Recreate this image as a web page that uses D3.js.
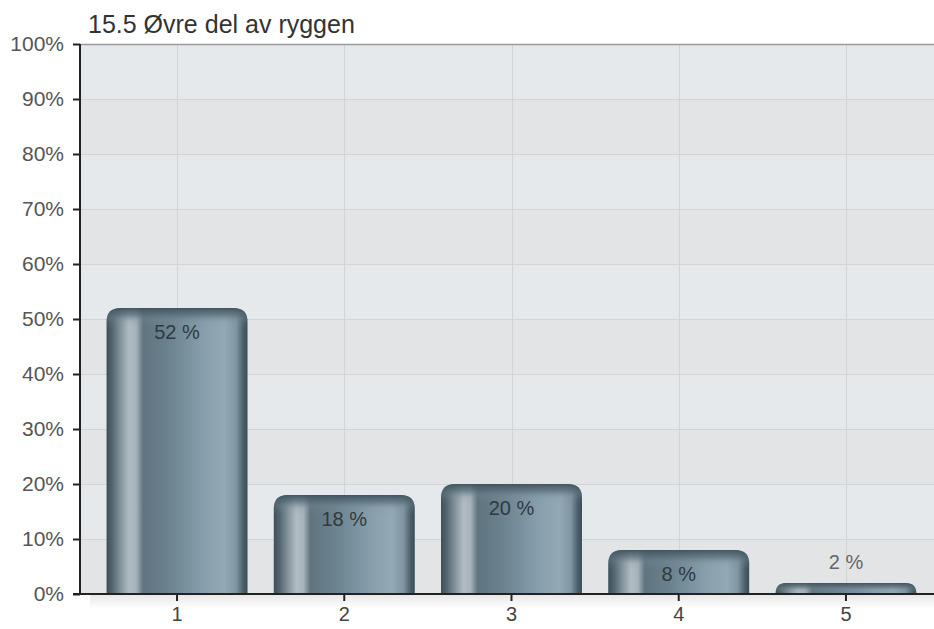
<!DOCTYPE html>
<html>
<head>
<meta charset="utf-8">
<script src="https://cdn.jsdelivr.net/npm/d3@7/dist/d3.min.js"></script>
<style>
  html, body { margin: 0; padding: 0; background: #ffffff; }
  svg { display: block; font-family: "Liberation Sans", Arial, sans-serif; }
</style>
</head>
<body>
<svg id="chart" width="934" height="629"></svg>
<script>
// Chart data
const title = "15.5 Øvre del av ryggen";
const categories = ["1", "2", "3", "4", "5"];
const values = [52, 18, 20, 8, 2];
const yTicks = [0, 10, 20, 30, 40, 50, 60, 70, 80, 90, 100];

const svg = d3.select("#chart");
const plot = { left: 80, right: 934, top: 44, bottom: 594 };
const FONT = "'Liberation Sans', Arial, sans-serif";

const x = d3.scaleBand()
  .domain(categories)
  .range([93.5, 929.5])
  .paddingInner(0.157)
  .paddingOuter(0.078);
const y = d3.scaleLinear().domain([0, 100]).range([plot.bottom, plot.top]);

const defs = svg.append("defs");

// Horizontal metallic gradient for the bar bodies
const gBody = defs.append("linearGradient").attr("id", "barBody")
  .attr("x1", "0%").attr("x2", "100%").attr("y1", "0%").attr("y2", "0%");
[
  [0, "#3d505a"], [4, "#52666f"], [11, "#8c9aa2"], [16, "#b1bcc3"], [21, "#a7b3ba"],
  [26, "#5f747f"], [45, "#6c8390"], [70, "#88a0ad"], [84, "#93a9b5"],
  [92, "#7f95a1"], [97, "#4c5f69"], [100, "#3b4d56"]
].forEach(([o, c]) => gBody.append("stop").attr("offset", o + "%").attr("stop-color", c));

// Vertical shading for the rounded top cap
const gCap = defs.append("linearGradient").attr("id", "barCap")
  .attr("x1", "0%").attr("x2", "0%").attr("y1", "0%").attr("y2", "100%");
[
  [0, "#3e525c", 0.95], [35, "#566b76", 0.7], [70, "#7c909b", 0.15], [100, "#7c909b", 0]
].forEach(([o, c, a]) => gCap.append("stop").attr("offset", o + "%")
  .attr("stop-color", c).attr("stop-opacity", a));

// Soft shadow under the baseline
const gShadow = defs.append("linearGradient").attr("id", "baseShadow")
  .attr("x1", "0%").attr("x2", "0%").attr("y1", "0%").attr("y2", "100%");
gShadow.append("stop").attr("offset", "0%").attr("stop-color", "#000").attr("stop-opacity", 0.09);
gShadow.append("stop").attr("offset", "100%").attr("stop-color", "#000").attr("stop-opacity", 0);

// Plot background with alternating bands
const bands = yTicks.slice(0, -1).map((t, i) => ({ lo: t, hi: yTicks[i + 1], i }));
svg.append("g").selectAll("rect").data(bands).join("rect")
  .attr("x", plot.left).attr("width", plot.right - plot.left)
  .attr("y", d => y(d.hi)).attr("height", d => y(d.lo) - y(d.hi))
  .attr("fill", d => (d.i % 2 === 0 ? "#e3e4e6" : "#e6e9ec"));

// Shadow below the plot
svg.append("rect")
  .attr("x", plot.left + 10).attr("y", plot.bottom + 1)
  .attr("width", plot.right - plot.left - 10).attr("height", 14)
  .attr("fill", "url(#baseShadow)");

// Grid lines
svg.append("g").selectAll("line").data(yTicks.slice(1, -1)).join("line")
  .attr("x1", plot.left).attr("x2", plot.right)
  .attr("y1", d => y(d) + 0.5).attr("y2", d => y(d) + 0.5)
  .attr("stroke", "#d3d4d6").attr("stroke-width", 1);
svg.append("g").selectAll("line").data(categories).join("line")
  .attr("x1", d => Math.round(x(d) + x.bandwidth() / 2) + 0.5)
  .attr("x2", d => Math.round(x(d) + x.bandwidth() / 2) + 0.5)
  .attr("y1", plot.top).attr("y2", plot.bottom)
  .attr("stroke", "#d3d4d6").attr("stroke-width", 1);

// Top border of the plot
svg.append("line")
  .attr("x1", plot.left).attr("x2", plot.right)
  .attr("y1", plot.top + 0.5).attr("y2", plot.top + 0.5)
  .attr("stroke", "#9a9a9a").attr("stroke-width", 1.5);

// Bars with rounded top corners
function barPath(x0, w, yTop, yBot, r) {
  const h = yBot - yTop;
  const rr = Math.min(r, h, w / 2);
  return `M${x0},${yBot} L${x0},${yTop + rr} Q${x0},${yTop} ${x0 + rr},${yTop} ` +
         `L${x0 + w - rr},${yTop} Q${x0 + w},${yTop} ${x0 + w},${yTop + rr} L${x0 + w},${yBot} Z`;
}
const data = categories.map((c, i) => ({ c, v: values[i] }));
const bars = svg.append("g").selectAll("g").data(data).join("g");
bars.append("path")
  .attr("d", d => barPath(x(d.c), x.bandwidth(), y(d.v), plot.bottom, 14))
  .attr("fill", "url(#barBody)");
bars.append("path")
  .attr("d", d => barPath(x(d.c), x.bandwidth(), y(d.v), Math.min(plot.bottom, y(d.v) + 20), 14))
  .attr("fill", "url(#barCap)");

// Value labels
bars.append("text")
  .attr("x", d => x(d.c) + x.bandwidth() / 2)
  .attr("y", d => (y(0) - y(d.v) > 40 ? y(d.v) + 31 : y(d.v) - 14))
  .attr("text-anchor", "middle")
  .attr("font-size", 20)
  .attr("font-family", FONT)
  .attr("fill", d => (y(0) - y(d.v) > 40 ? "#2f3a40" : "#666"))
  .text(d => d.v + " %");

// Axes
const yAxis = d3.axisLeft(y).tickValues(yTicks).tickSize(7).tickPadding(9)
  .tickFormat(d => d + "%");
const gy = svg.append("g").attr("transform", `translate(${plot.left},0)`).call(yAxis);
gy.select(".domain").attr("stroke", "#222").attr("stroke-width", 2)
  .attr("d", `M0,${plot.top}V${plot.bottom}`);
gy.selectAll(".tick line").attr("stroke", "#222").attr("stroke-width", 2);
gy.selectAll(".tick text").attr("font-size", 21).attr("fill", "#555")
  .attr("font-family", FONT);

const xAxis = d3.axisBottom(x).tickSize(7).tickPadding(6);
const gx = svg.append("g").attr("transform", `translate(0,${plot.bottom})`).call(xAxis);
gx.select(".domain").attr("stroke", "#222").attr("stroke-width", 2)
  .attr("d", `M${plot.left - 7},0H${plot.right}`);
gx.selectAll(".tick line").attr("stroke", "#222").attr("stroke-width", 2);
gx.selectAll(".tick text").attr("font-size", 20).attr("fill", "#444")
  .attr("font-family", FONT);

// Title
svg.append("text")
  .attr("x", 88).attr("y", 33)
  .attr("font-size", 25).attr("font-family", FONT).attr("fill", "#333")
  .text(title);
</script>
</body>
</html>
